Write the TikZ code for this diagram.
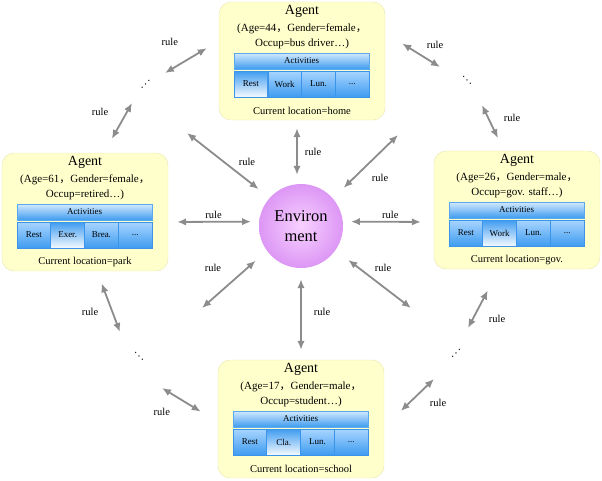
\documentclass[tikz,border=0pt]{standalone}
\usepackage{fontspec}
\setmainfont{Liberation Serif}
\newfontfamily\cjk{Noto Sans CJK SC}
\newfontfamily\symb{DejaVu Sans}
\usetikzlibrary{arrows.meta,calc}

\definecolor{agentfill}{HTML}{FFFFCC}
\definecolor{agentedge}{HTML}{E6E6B4}
\definecolor{barTop}{HTML}{D2E9FD}
\definecolor{barBot}{HTML}{3F9CF0}
\definecolor{barEdge}{HTML}{5AA8EE}
\definecolor{cellTop}{HTML}{A8D5FF}
\definecolor{cellBot}{HTML}{3F9CF0}
\definecolor{cellOnTop}{HTML}{3F9CF0}
\definecolor{cellOnBot}{HTML}{F4F9FF}
\definecolor{cellEdge}{HTML}{3A94EA}
\definecolor{rulegray}{HTML}{8C8C8C}
\pgfdeclareradialshading{envglow}{\pgfpoint{0bp}{0bp}}{rgb(0bp)=(0.97,0.82,1); rgb(50bp)=(0.76,0.36,0.92)}
\newcommand{\etc}{...}

\tikzset{
    agentcard/.style={draw=agentedge, fill=agentfill, rounded corners=12pt,
        minimum width=166pt, minimum height=118pt, inner sep=0pt},
    agenttitle/.style={font=\fontsize{14}{16}\selectfont, inner sep=0pt},
    agentinfo/.style={font=\fontsize{11}{13}\selectfont, inner sep=0pt},
    agentloc/.style={font=\fontsize{10.5}{12}\selectfont, inner sep=0pt},
    actbar/.style={draw=barEdge, top color=barTop, bottom color=barBot,
        minimum width=135pt, minimum height=16pt, inner sep=0pt,
        font=\fontsize{9}{10}\selectfont},
    actcell/.style={draw=cellEdge, top color=cellTop, bottom color=cellBot,
        minimum width=33.75pt, minimum height=26pt, inner sep=0pt,
        font=\fontsize{9}{10}\selectfont},
    actcellon/.style={actcell, top color=cellOnTop, bottom color=cellOnBot, line width=0.8pt},
    envball/.style={circle, shading=envglow, minimum size=84pt, inner sep=0pt,
        align=center, font=\fontsize{16.5}{20}\selectfont},
    rulearrow/.style={<->, >={Latex[length=9pt,width=7.5pt]}, draw=rulegray, line width=1.8pt},
    rulelabel/.style={font=\fontsize{10.5}{12}\selectfont, inner sep=1pt},
    moredots/.style={font=\symb\fontsize{10}{11}\selectfont, inner sep=0pt}
}

% #1 name, #2 centre, #3 age, #4 gender, #5 occupation, #6 activities, #7 current activity, #8 location
\newcommand{\agentcard}[8]{%
    \begin{scope}[shift={#2}]
        \node[agentcard] (#1) at (0,0) {};
        \node[agenttitle] (#1-title) at (0,-50) {Agent};
        \node[agentinfo] (#1-info) at (0,-32) {(Age=#3{\cjk ，}Gender=#4{\cjk ，}};
        \node[agentinfo] (#1-occ) at (0,-17) {Occup=#5…)};
        \node[actbar] (#1-bar) at (-0.5,0) {Activities};
        \foreach \act [count=\i] in {#6} {
            \ifnum\i=#7 \def\cellstyle{actcellon}\else\def\cellstyle{actcell}\fi
            \node[\cellstyle] (#1-act\i) at ({-68+33.75*(\i-0.5)},23) {\act};
        }
        \node[agentloc] (#1-loc) at (0,50) {Current location=#8};
    \end{scope}%
}

\begin{document}
\begin{tikzpicture}[x=1pt, y=-1pt]
    \useasboundingbox (0,0) rectangle (602,480);

    % agents
    \agentcard{top}{(302,61)}{44}{female}{bus driver}{Rest,Work,Lun.,\etc}{1}{home}
    \agentcard{left}{(85,212)}{61}{female}{retired}{Rest,Exer.,Brea.,\etc}{2}{park}
    \agentcard{right}{(517,210)}{26}{male}{gov. staff}{Rest,Work,Lun.,\etc}{2}{gov.}
    \agentcard{bottom}{(301,419)}{17}{male}{student}{Rest,Cla.,Lun.,\etc}{2}{school}

    % environment
    \node[envball] (env) at (301,226) {Environ\\ment};

    % other agents
    \node[moredots] (dUL) at (145.5,84.5) {⋰};
    \node[moredots] (dUR) at (467,80) {⋱};
    \node[moredots] (dLL) at (139,356) {⋱};
    \node[moredots] (dLR) at (456,353) {⋰};

    % free ends of the arrows
    \coordinate (ulE) at (187,133);
    \coordinate (urE) at (398,135);
    \coordinate (llE) at (202,308);
    \coordinate (lrE) at (411,308);
    \coordinate (ulA) at (165,73);
    \coordinate (ulB) at (132,103);
    \coordinate (urA) at (440,67);
    \coordinate (urB) at (482,105);
    \coordinate (llA) at (120,332);
    \coordinate (llB) at (162,388);
    \coordinate (lrA) at (468,328);
    \coordinate (lrB) at (434,379);

    % agent <-> environment
    \draw[rulearrow, shorten <=8pt, shorten >=9pt] ([xshift=-5pt]top.south) -- ([xshift=-4pt]env.north)
        node[rulelabel, midway, shift={(16,0)}] (rTop) {rule};
    \draw[rulearrow, shorten <=11pt, shorten >=10pt] (env.south) -- (bottom.north)
        node[rulelabel, midway, shift={(21,-2)}] (rBottom) {rule};
    \draw[rulearrow, shorten <=9pt, shorten >=8pt] ([yshift=-10pt]left.east) -- (env.174)
        node[rulelabel, midway, shift={(0,-7)}] (rLeft) {rule};
    \draw[rulearrow, shorten <=8pt, shorten >=13pt] (env.6) -- ([yshift=-12pt]right.west)
        node[rulelabel, midway, shift={(2,-7)}] (rRight) {rule};
    \draw[rulearrow, shorten <=14pt] (env.138) -- (ulE)
        node[rulelabel, midway, shift={(18.6,-3.5)}] (rUL) {rule};
    \draw[rulearrow, shorten <=15pt] (env.41) -- (urE)
        node[rulelabel, midway, shift={(14.6,11.3)}] (rUR) {rule};
    \draw[rulearrow, shorten <=15pt] (env.216) -- (llE)
        node[rulelabel, midway, shift={(-21.5,-11.4)}] (rLL) {rule};
    \draw[rulearrow, shorten <=16pt] (env.-35) -- (lrE)
        node[rulelabel, midway, shift={(9.8,-11)}] (rLR) {rule};

    % agent <-> other agents
    \draw[rulearrow, shorten >=14pt] (ulA) -- ([yshift=20pt]top.west)
        node[rulelabel, midway, shift={(-22,-15)}] (rUL1) {rule};
    \draw[rulearrow, shorten >=16pt] (ulB) -- ([xshift=19pt]left.north)
        node[rulelabel, midway, shift={(-18,-16)}] (rUL2) {rule};
    \draw[rulearrow, shorten >=20pt] (urA) -- ([yshift=28pt]top.east)
        node[rulelabel, midway, shift={(22.5,-5)}] (rUR1) {rule};
    \draw[rulearrow, shorten >=14pt] (urB) -- ([xshift=-13pt]right.north)
        node[rulelabel, midway, shift={(19,-10)}] (rUR2) {rule};
    \draw[rulearrow, shorten >=13pt] (llA) -- ([xshift=12pt]left.south)
        node[rulelabel, midway, shift={(-18.5,10.5)}] (rLL1) {rule};
    \draw[rulearrow, shorten >=20pt] (llB) -- ([yshift=-3pt]bottom.west)
        node[rulelabel, midway, shift={(-28,7)}] (rLL2) {rule};
    \draw[rulearrow, shorten >=24pt] (lrA) -- ([xshift=-18pt]right.south)
        node[rulelabel, midway, shift={(13.5,20.5)}] (rLR1) {rule};
    \draw[rulearrow, shorten >=23pt] (lrB) -- ([yshift=-8pt]bottom.east)
        node[rulelabel, midway, shift={(29,0)}] (rLR2) {rule};

\end{tikzpicture}
\end{document}
